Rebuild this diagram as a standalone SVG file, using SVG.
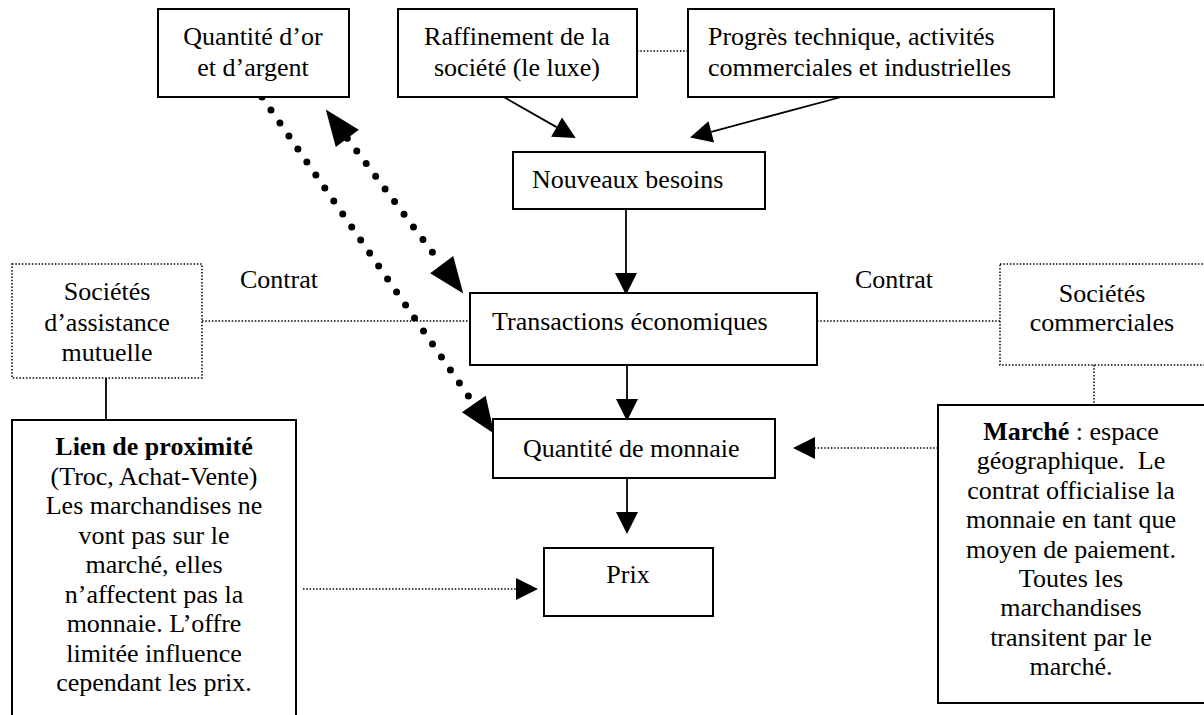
<svg xmlns="http://www.w3.org/2000/svg" width="1204" height="715" viewBox="0 0 1204 715">
<style>
text{font-family:"Liberation Serif","Times New Roman",serif;font-size:26px;fill:#000}
.c{text-anchor:middle}
.box{fill:#fff;stroke:#000;stroke-width:2}
.dbox{fill:#fff;stroke:#000;stroke-width:1.5;stroke-dasharray:1.5 1.8}
.ln{fill:none;stroke:#000;stroke-width:1.8}
.dl{fill:none;stroke:#000;stroke-width:1.5;stroke-dasharray:1.5 1.8}
.big{fill:none;stroke:#000;stroke-width:7;stroke-linecap:round;stroke-dasharray:0 15.8}
</style>
<defs>
<marker id="a" markerUnits="userSpaceOnUse" markerWidth="22" markerHeight="22" refX="0" refY="10" orient="auto" viewBox="0 0 20 20" overflow="visible"><path d="M0,0 L20,10 L0,20 z" fill="#000"/></marker>
<marker id="b" markerUnits="userSpaceOnUse" markerWidth="36" markerHeight="30" refX="0" refY="14" orient="auto-start-reverse" viewBox="0 0 35 28" overflow="visible"><path d="M0,0 L35,14 L0,28 z" fill="#000"/></marker>
</defs>
<rect width="1204" height="715" fill="#fff"/>
<g id="connectors">
<line class="dl" x1="637" y1="51" x2="688" y2="51"/>
<line class="dl" x1="202" y1="321" x2="470" y2="321"/>
<line class="dl" x1="817" y1="321" x2="1000" y2="321"/>
<line class="ln" x1="106" y1="378" x2="106" y2="420"/>
<line class="dl" x1="1094" y1="365" x2="1094" y2="405"/>
<line class="ln" x1="502" y1="96" x2="556.6" y2="127.1" marker-end="url(#a)"/>
<line class="ln" x1="845" y1="96" x2="711.3" y2="131.8" marker-end="url(#a)"/>
<line class="ln" x1="626" y1="209" x2="626" y2="273" marker-end="url(#a)"/>
<line class="ln" x1="627" y1="365" x2="627" y2="399" marker-end="url(#a)"/>
<line class="ln" x1="627" y1="478" x2="627" y2="512" marker-end="url(#a)"/>
<line class="dl" x1="938" y1="448" x2="815" y2="448" marker-end="url(#a)"/>
<line class="dl" x1="303" y1="589" x2="516" y2="589" marker-end="url(#a)"/>
<line class="big" x1="262" y1="97" x2="473.8" y2="404" marker-end="url(#b)"/>
<line class="big" x1="347.3" y1="138.3" x2="441.7" y2="264.7" marker-start="url(#b)" marker-end="url(#b)"/>
</g>
<g id="n-or">
<rect class="box" x="158" y="9" width="191" height="88"/>
<text class="c" x="253" y="45">Quantité d’or</text>
<text class="c" x="253" y="76">et d’argent</text>
</g>
<g id="n-raffinement">
<rect class="box" x="398" y="9" width="239" height="88"/>
<text class="c" x="517" y="45">Raffinement de la</text>
<text class="c" x="517" y="76">société (le luxe)</text>
</g>
<g id="n-progres">
<rect class="box" x="688" y="9" width="366" height="88"/>
<text x="708" y="45">Progrès technique, activités</text>
<text x="708" y="76">commerciales et industrielles</text>
</g>
<g id="n-besoins">
<rect class="box" x="513" y="152" width="252" height="57"/>
<text x="532" y="188">Nouveaux besoins</text>
</g>
<g id="n-transactions">
<rect class="box" x="470" y="293" width="347" height="72"/>
<text x="492" y="330">Transactions économiques</text>
</g>
<g id="n-monnaie">
<rect class="box" x="493" y="419" width="282" height="59"/>
<text x="523" y="457">Quantité de monnaie</text>
</g>
<g id="n-prix">
<rect class="box" x="544" y="548" width="169" height="68"/>
<text class="c" x="628" y="583">Prix</text>
</g>
<g id="l-contrat-g">
<text x="240" y="288">Contrat</text>
</g>
<g id="l-contrat-d">
<text x="855" y="288">Contrat</text>
</g>
<g id="n-assistance">
<rect class="dbox" x="12" y="264" width="190" height="114"/>
<text class="c" x="107" y="300">Sociétés</text>
<text class="c" x="107" y="331">d’assistance</text>
<text class="c" x="107" y="361">mutuelle</text>
</g>
<g id="n-commerciales">
<rect class="dbox" x="1000" y="264" width="212" height="101"/>
<text class="c" x="1102" y="302">Sociétés</text>
<text class="c" x="1102" y="331">commerciales</text>
</g>
<g id="n-lien">
<rect class="box" x="12" y="420" width="284" height="310"/>
<text class="c" x="154" y="455" font-weight="bold">Lien de proximité</text>
<text class="c" x="154" y="484.5">(Troc, Achat-Vente)</text>
<text class="c" x="154" y="514">Les marchandises ne</text>
<text class="c" x="154" y="543.5">vont pas sur le</text>
<text class="c" x="154" y="573">marché, elles</text>
<text class="c" x="154" y="602.5">n’affectent pas la</text>
<text class="c" x="154" y="632">monnaie. L’offre</text>
<text class="c" x="154" y="661.5">limitée influence</text>
<text class="c" x="154" y="691">cependant les prix.</text>
</g>
<g id="n-marche">
<rect class="box" x="938" y="405" width="272" height="298"/>
<text class="c" x="1071" y="440"><tspan font-weight="bold">Marché</tspan> : espace</text>
<text class="c" x="1071" y="469.4">géographique.&#160; Le</text>
<text class="c" x="1071" y="498.8">contrat officialise la</text>
<text class="c" x="1071" y="528.2">monnaie en tant que</text>
<text class="c" x="1071" y="557.6">moyen de paiement.</text>
<text class="c" x="1071" y="587">Toutes les</text>
<text class="c" x="1071" y="616.4">marchandises</text>
<text class="c" x="1071" y="645.8">transitent par le</text>
<text class="c" x="1071" y="675.2">marché.</text>
</g>
</svg>
